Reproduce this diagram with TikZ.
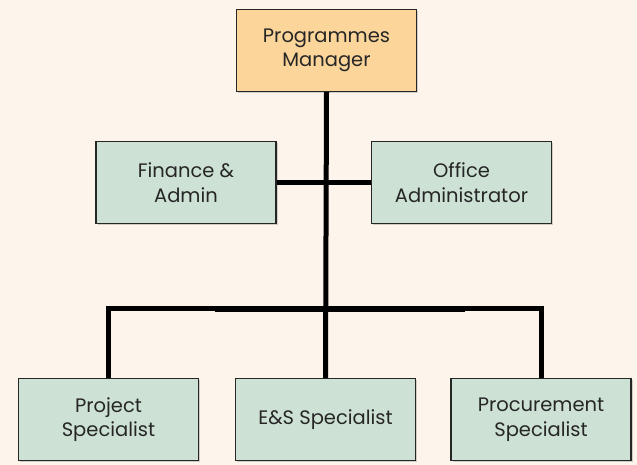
\documentclass[tikz,border=0pt]{standalone}
\usepackage{fontspec}
\setmainfont{Poppins}
\usetikzlibrary{shadows}
\begin{document}
\begin{tikzpicture}[x=1pt,y=-1pt]

\definecolor{bgcream}{HTML}{FDF5EB}
\definecolor{boxgreen}{HTML}{CDE2D4}
\definecolor{boxorange}{HTML}{FCD59B}
\tikzset{
	box/.style={draw=black!85, line width=1.3pt, fill=boxgreen,
		minimum width=180pt, minimum height=82pt, align=center,
		text=black!85, font=\fontsize{19.5}{24.5}\selectfont,
		drop shadow={opacity=0.35, shadow xshift=1.5pt, shadow yshift=-1.5pt}},
	head/.style={box, fill=boxorange},
	link/.style={line width=5pt, black}
}
	% background and page size
	\fill[bgcream] (0,0) rectangle (637,465);

	% boxes
	\node[head] (pm) at (326.5,50.5) {Programmes\\Manager};
	\node[box]  (fa) at (186,182.5)  {Finance \&\\Admin};
	\node[box]  (oa) at (461.5,182.5) {Office\\Administrator};
	\node[box]  (ps) at (108.5,419.5) {Project\\Specialist};
	\node[box]  (es) at (325.5,419.5) {E\&S Specialist};
	\node[box]  (pr) at (541,419.5)  {Procurement\\Specialist};

	% bus coordinates
	\coordinate (bus) at (326,308);
	\coordinate (busl) at (215,309);
	\coordinate (busr) at (465,309);

	% links
	\draw[link] (fa.east) -- (oa.west);
	\draw[link] (ps.north) |- (bus) -| (pr.north);
	\draw[link, line width=6.5pt] (busl) -- (busr);
	\draw[link] (pm.south) -- (es.north);

\end{tikzpicture}
\end{document}
